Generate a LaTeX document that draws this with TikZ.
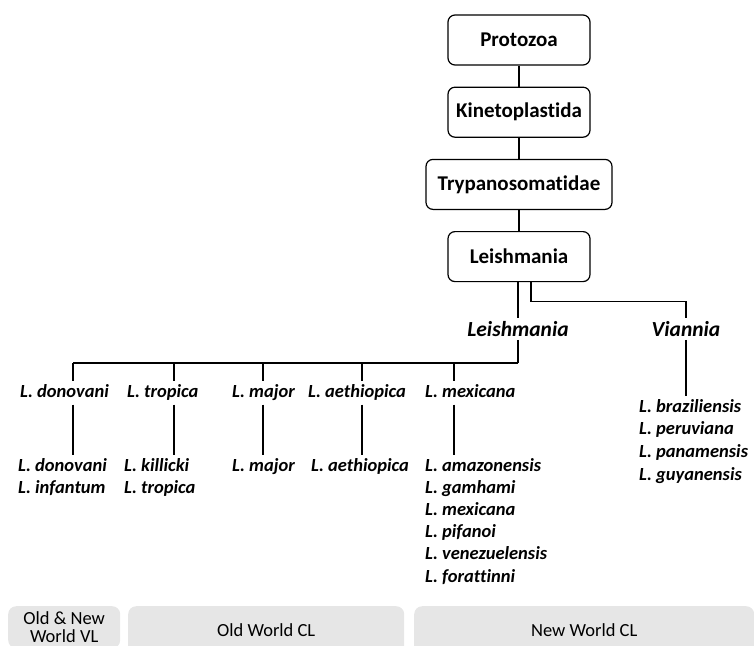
\documentclass[tikz,border=0pt]{standalone}
\usepackage{fontspec}
\setmainfont{Carlito}[Ligatures=NoCommon]
\usetikzlibrary{positioning}

\definecolor{regiongray}{HTML}{E6E6E6}

\tikzset{
  taxon/.style={draw, rounded corners=7pt, line width=1.2pt, minimum width=142pt,
    minimum height=50pt, font=\fontsize{21}{24}\selectfont\bfseries},
  subgenus/.style={font=\fontsize{21.5}{24}\selectfont\bfseries\itshape, inner sep=3pt},
  species/.style={font=\fontsize{18.5}{22}\selectfont\bfseries\itshape, inner sep=3pt,
    text height=13pt, text depth=4pt, anchor=west},
  splist/.style={font=\fontsize{18.5}{22.2}\selectfont\bfseries\itshape, align=left,
    anchor=north west, inner xsep=0pt, inner ysep=3pt},
  region/.style={fill=regiongray, rounded corners=8pt, anchor=north west,
    minimum height=48pt, align=center, font=\fontsize{18.5}{18.5}\selectfont},
  link/.style={line width=1.3pt}
}

\begin{document}
\begin{tikzpicture}[x=1pt, y=-1pt]
  \useasboundingbox (0,0) rectangle (754,645);

  % classification boxes
  \node[taxon] (proto) at (519,40) {Protozoa};
  \node[taxon, below=21pt of proto] (kineto) {Kinetoplastida};
  \node[taxon, below=21pt of kineto, minimum width=186pt] (trypano) {Trypanosomatidae};
  \node[taxon, below=21pt of trypano] (leish) {Leishmania};

  \draw[link] (proto) -- (kineto);
  \draw[link] (kineto) -- (trypano);
  \draw[link] (trypano) -- (leish);

  % subgenera
  \node[subgenus] (subL) at (518,329) {Leishmania};
  \node[subgenus] (subV) at (686,329) {Viannia};

  \draw[link] ([xshift=-1pt]leish.south) -- (subL.north);
  \draw[link] ([xshift=12pt]leish.south) -- ++(0,19) -| (subV.north);

  % complexes
  \node[species] (don) at (17,393) {L. donovani};
  \node[species] (tro) at (124,393) {L. tropica};
  \node[species] (maj) at (229,393) {L. major};
  \node[species] (aet) at (305,393) {L. aethiopica};
  \node[species] (mex) at (422,393) {L. mexicana};

  \coordinate (bar) at (518,363);
  \draw[link] (subL.south) -- (bar);
  \draw[link] (bar) -- (73,363);
  \foreach \n/\x in {don/73, tro/174, maj/263, aet/362, mex/454}
    \draw[link] (\x,363) -- (\n.north -| \x,0);

  % species lists
  \node[splist] (donlist) at (18,455) {L. donovani\\L. infantum};
  \node[splist] (trolist) at (124,455) {L. killicki\\L. tropica};
  \node[splist] (majlist) at (232,455) {L. major};
  \node[splist] (aetlist) at (311,455) {L. aethiopica};
  \node[splist] (mexlist) at (425,455) {L. amazonensis\\L. gamhami\\L. mexicana\\L. pifanoi\\L. venezuelensis\\L. forattinni};
  \node[splist, font=\fontsize{18.5}{22.8}\selectfont\bfseries\itshape] (vialist) at (639,396) {L. braziliensis\\L. peruviana\\L. panamensis\\L. guyanensis};

  \foreach \n/\x in {don/73, tro/174, maj/263, aet/362, mex/454}
    \draw[link] (\n.south -| \x,0) -- (\n list.north -| \x,0);
  \draw[link] (subV.south) -- (vialist.north -| subV.south);

  % regions
  \node[region, minimum width=112pt, minimum height=42pt] (vl) at (8,606) {Old \& New\\World VL};
  \node[region, minimum width=276pt] (owcl) at (128,606) {Old World CL};
  \node[region, minimum width=340pt] (nwcl) at (414,606) {New World CL};
\end{tikzpicture}
\end{document}
